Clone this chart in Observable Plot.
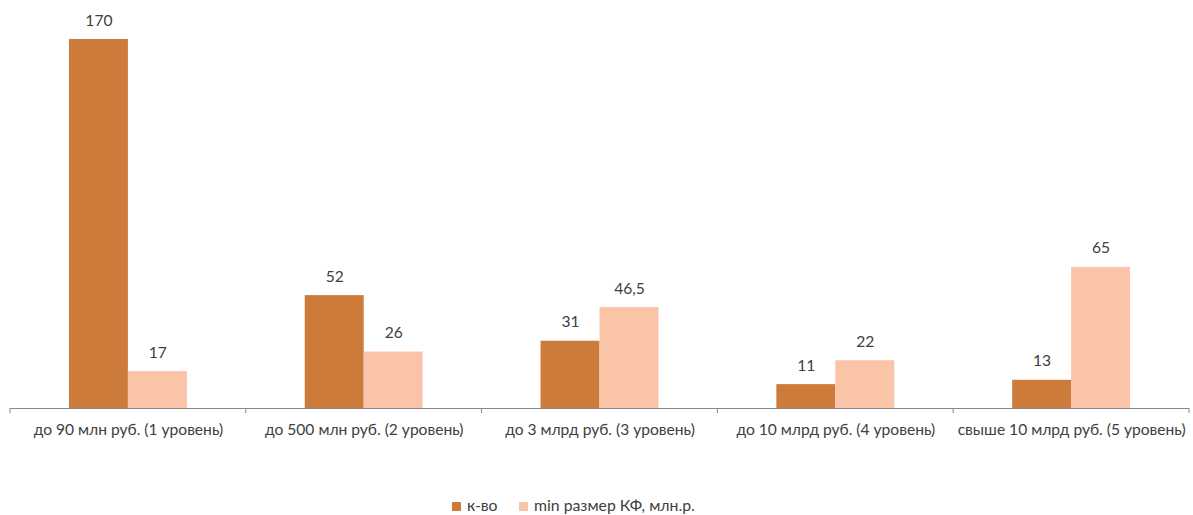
<!DOCTYPE html>
<html>
<head>
<meta charset="utf-8">
<script src="https://cdn.jsdelivr.net/npm/d3@7"></script>
<script src="https://cdn.jsdelivr.net/npm/@observablehq/plot@0.6"></script>
<style>
  body { margin: 0; background: #fff; font-family: Lato, "Open Sans", sans-serif; }
  #legend { position: relative; height: 20px; font-size: 15.8px; color: #404040; }
  #legend .item { position: absolute; top: 0; line-height: 20px; white-space: nowrap; }
  #legend .sw { display: inline-block; width: 9px; height: 9px; margin-right: 6px; vertical-align: 0px; }
</style>
</head>
<body>
<div id="chart"></div>
<div id="legend"></div>
<script>
const categories = [
  "до 90 млн руб. (1 уровень)",
  "до 500 млн руб. (2 уровень)",
  "до 3 млрд руб. (3 уровень)",
  "до 10 млрд руб. (4 уровень)",
  "свыше 10 млрд руб. (5 уровень)"
];
const seriesNames = ["к-во", "min размер КФ, млн.р."];
const countValues = [170, 52, 31, 11, 13];
const minSizeValues = [17, 26, 46.5, 22, 65];
const valueLabels = [["170","52","31","11","13"], ["17","26","46,5","22","65"]];
const colors = ["#CD7B3A", "#FAC4A8"];

const data = [];
categories.forEach((c, i) => {
  data.push({cat: c, series: seriesNames[0], value: countValues[i], label: valueLabels[0][i]});
  data.push({cat: c, series: seriesNames[1], value: minSizeValues[i], label: valueLabels[1][i]});
});

const H = 495;
const chart = Plot.plot({
  width: 1193,
  height: H,
  marginLeft: 10,
  marginRight: 4,
  marginTop: 39,
  marginBottom: H - 408,
  style: {fontFamily: "Lato, 'Open Sans', sans-serif", fontSize: "15.6px", color: "#404040", background: "#fff"},
  fx: {domain: categories, paddingInner: 0, paddingOuter: 0, round: false, label: null},
  x: {domain: seriesNames, paddingInner: 0, paddingOuter: 1, round: false, axis: null},
  y: {domain: [0, 170], axis: null},
  color: {domain: seriesNames, range: colors},
  marks: [
    Plot.barY(data, {fx: "cat", x: "series", y: "value", fill: "series"}),
    Plot.text(data, {fx: "cat", x: "series", y: "value", text: "label", dy: -19, fill: "#404040", fontSize: 15.6}),
    Plot.ruleY([0], {stroke: "#888"}),
    Plot.axisFx({anchor: "bottom", tickSize: 0, tickPadding: 15, fontSize: 15.6, fill: "#404040", label: null})
  ]
});
document.getElementById("chart").appendChild(chart);

// separator ticks at category band edges, using the fx scale
const fx = chart.scale("fx");
const svg = d3.select(chart);
const edges = [];
categories.forEach((c) => edges.push(fx.apply(c)));
edges.push(fx.apply(categories[categories.length - 1]) + fx.bandwidth);
svg.append("g").selectAll("line").data(edges).join("line")
  .attr("x1", d => d).attr("x2", d => d)
  .attr("y1", 408).attr("y2", 413)
  .attr("stroke", "#888");

// legend
const legend = document.getElementById("legend");
const positions = [452, 519];
seriesNames.forEach((s, i) => {
  const it = document.createElement("div");
  it.className = "item";
  it.style.left = positions[i] + "px";
  it.innerHTML = `<span class="sw" style="background:${colors[i]}"></span>${s}`;
  legend.appendChild(it);
});
</script>
</body>
</html>
